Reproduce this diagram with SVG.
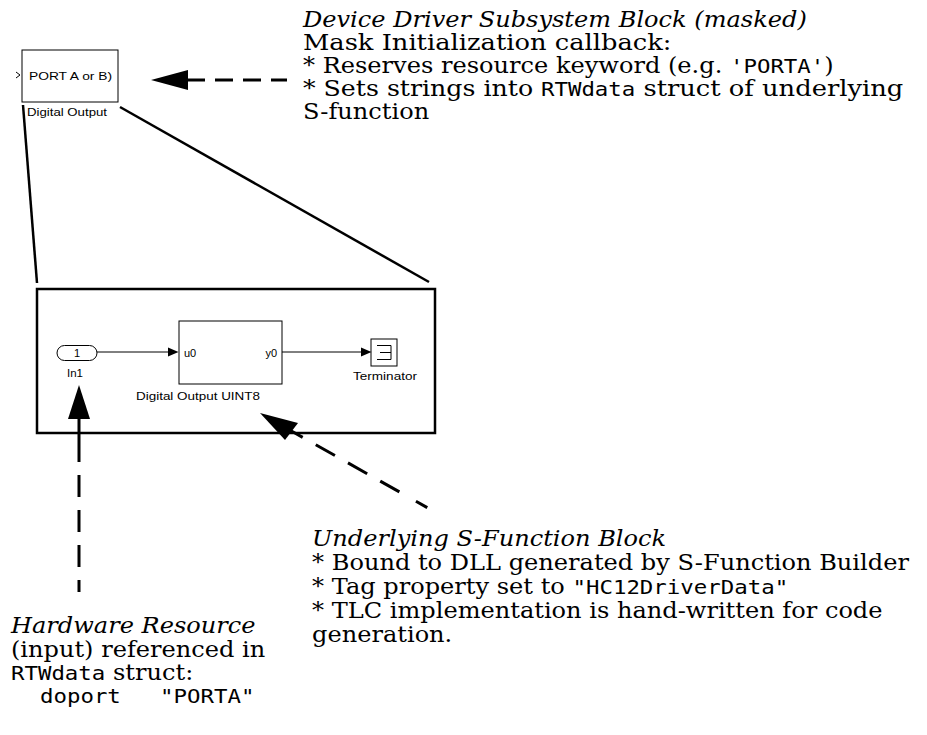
<svg xmlns="http://www.w3.org/2000/svg" width="927" height="735" viewBox="0 0 927 735">
<style>
.ann{font-family:"DejaVu Serif","Liberation Serif",serif;font-size:21.5px;fill:#000}
.it{font-style:italic}
.mono{font-family:"DejaVu Sans Mono","Liberation Mono",monospace;font-size:20px}
.sl{font-family:"Liberation Sans",Arial,sans-serif;font-size:11px;fill:#000}
.blk{fill:#fff;stroke:#000;stroke-width:1}
.sig{fill:none;stroke:#000;stroke-width:1}
.solid{fill:none;stroke:#000;stroke-width:2.5}
.dash{fill:none;stroke:#000;stroke-width:3}
.head{fill:#000;stroke:none}
</style>
<rect width="927" height="735" fill="#fff"/>

<g id="digital-output-masked">
  <rect class="blk" x="22" y="50" width="96" height="52"/>
  <polyline class="sig" points="16,72 20,75 16,78"/>
  <text class="sl" x="29" y="80" textLength="83" lengthAdjust="spacingAndGlyphs">PORT A or B)</text>
  <text class="sl" x="27" y="116" textLength="80" lengthAdjust="spacingAndGlyphs">Digital Output</text>
</g>

<g id="subsystem-view">
  <rect x="37" y="289" width="398" height="144" fill="none" stroke="#000" stroke-width="2.5"/>
</g>

<g id="in1">
  <rect class="blk" x="57" y="345.5" width="40" height="15" rx="7.5"/>
  <text class="sl" x="77" y="357" text-anchor="middle">1</text>
  <text class="sl" x="67" y="377" textLength="16" lengthAdjust="spacingAndGlyphs">In1</text>
</g>

<g id="digital-output-uint8">
  <rect class="blk" x="179" y="321" width="103" height="63"/>
  <text class="sl" x="184" y="357">u0</text>
  <text class="sl" x="277" y="357" text-anchor="end">y0</text>
  <text class="sl" x="136" y="400" textLength="124" lengthAdjust="spacingAndGlyphs">Digital Output UINT8</text>
</g>

<g id="terminator">
  <rect class="blk" x="371" y="339" width="26" height="27"/>
  <path class="sig" d="M377 345.5H391V359.5H377M380 352.5H391"/>
  <text class="sl" x="353" y="380" textLength="64" lengthAdjust="spacingAndGlyphs">Terminator</text>
</g>

<g id="connectors">
  <path class="sig" d="M97 352H169"/>
  <polygon class="head" points="168,347.5 178.5,352 168,356.5"/>
  <path class="sig" d="M282 352H362"/>
  <polygon class="head" points="361,347.5 371.5,352 361,356.5"/>
  <path class="solid" d="M23 105L37 283"/>
  <path class="solid" d="M120 107L429 282"/>
  <polygon class="head" points="151,80 188,70 188,90"/>
  <path class="dash" d="M187 80H287" stroke-dasharray="18 10"/>
  <polygon class="head" points="79,385 68,419 90,419"/>
  <path class="dash" d="M79 417V592" stroke-dasharray="45 13 22 13 22 13 22 13 22 13 12"/>
  <polygon class="head" points="260,413 285,440 298,423"/>
  <path class="dash" d="M290.5 430.5L428 508" stroke-dasharray="14 15 22 15 22 15 22 19 13"/>
</g>

<g id="annotations" transform="scale(1.12 1)">
  <text class="ann" x="270.5" y="27"><tspan class="it">Device Driver Subsystem Block (masked)</tspan></text>
  <text class="ann" x="270.5" y="50" textLength="329" lengthAdjust="spacingAndGlyphs">Mask Initialization callback:</text>
  <text class="ann" x="270.5" y="73">* Reserves resource keyword (e.g. <tspan class="mono">'PORTA'</tspan>)</text>
  <text class="ann" x="270.5" y="96" textLength="205.5" lengthAdjust="spacingAndGlyphs">* Sets strings into</text>
  <text class="ann mono" x="483" y="96">RTWdata</text>
  <text class="ann" x="574.5" y="96" textLength="232" lengthAdjust="spacingAndGlyphs">struct of underlying</text>
  <text class="ann" x="270.5" y="119">S-function</text>

  <text class="ann it" x="278.6" y="546">Underlying S-Function Block</text>
  <text class="ann" x="278.6" y="570">* Bound to DLL generated by S-Function Builder</text>
  <text class="ann" x="278.6" y="594">* Tag property set to <tspan class="mono">"HC12DriverData"</tspan></text>
  <text class="ann" x="278.6" y="618">* TLC implementation is hand-written for code</text>
  <text class="ann" x="278.6" y="642">generation.</text>

  <text class="ann it" x="9.8" y="633">Hardware Resource</text>
  <text class="ann" x="9.8" y="657">(input) referenced in</text>
  <text class="ann" x="9.8" y="680"><tspan class="mono">RTWdata</tspan> struct:</text>
  <text class="ann" y="703"><tspan class="mono" x="35.7">doport</tspan><tspan class="mono" x="142.9">"PORTA"</tspan></text>
</g>
</svg>
